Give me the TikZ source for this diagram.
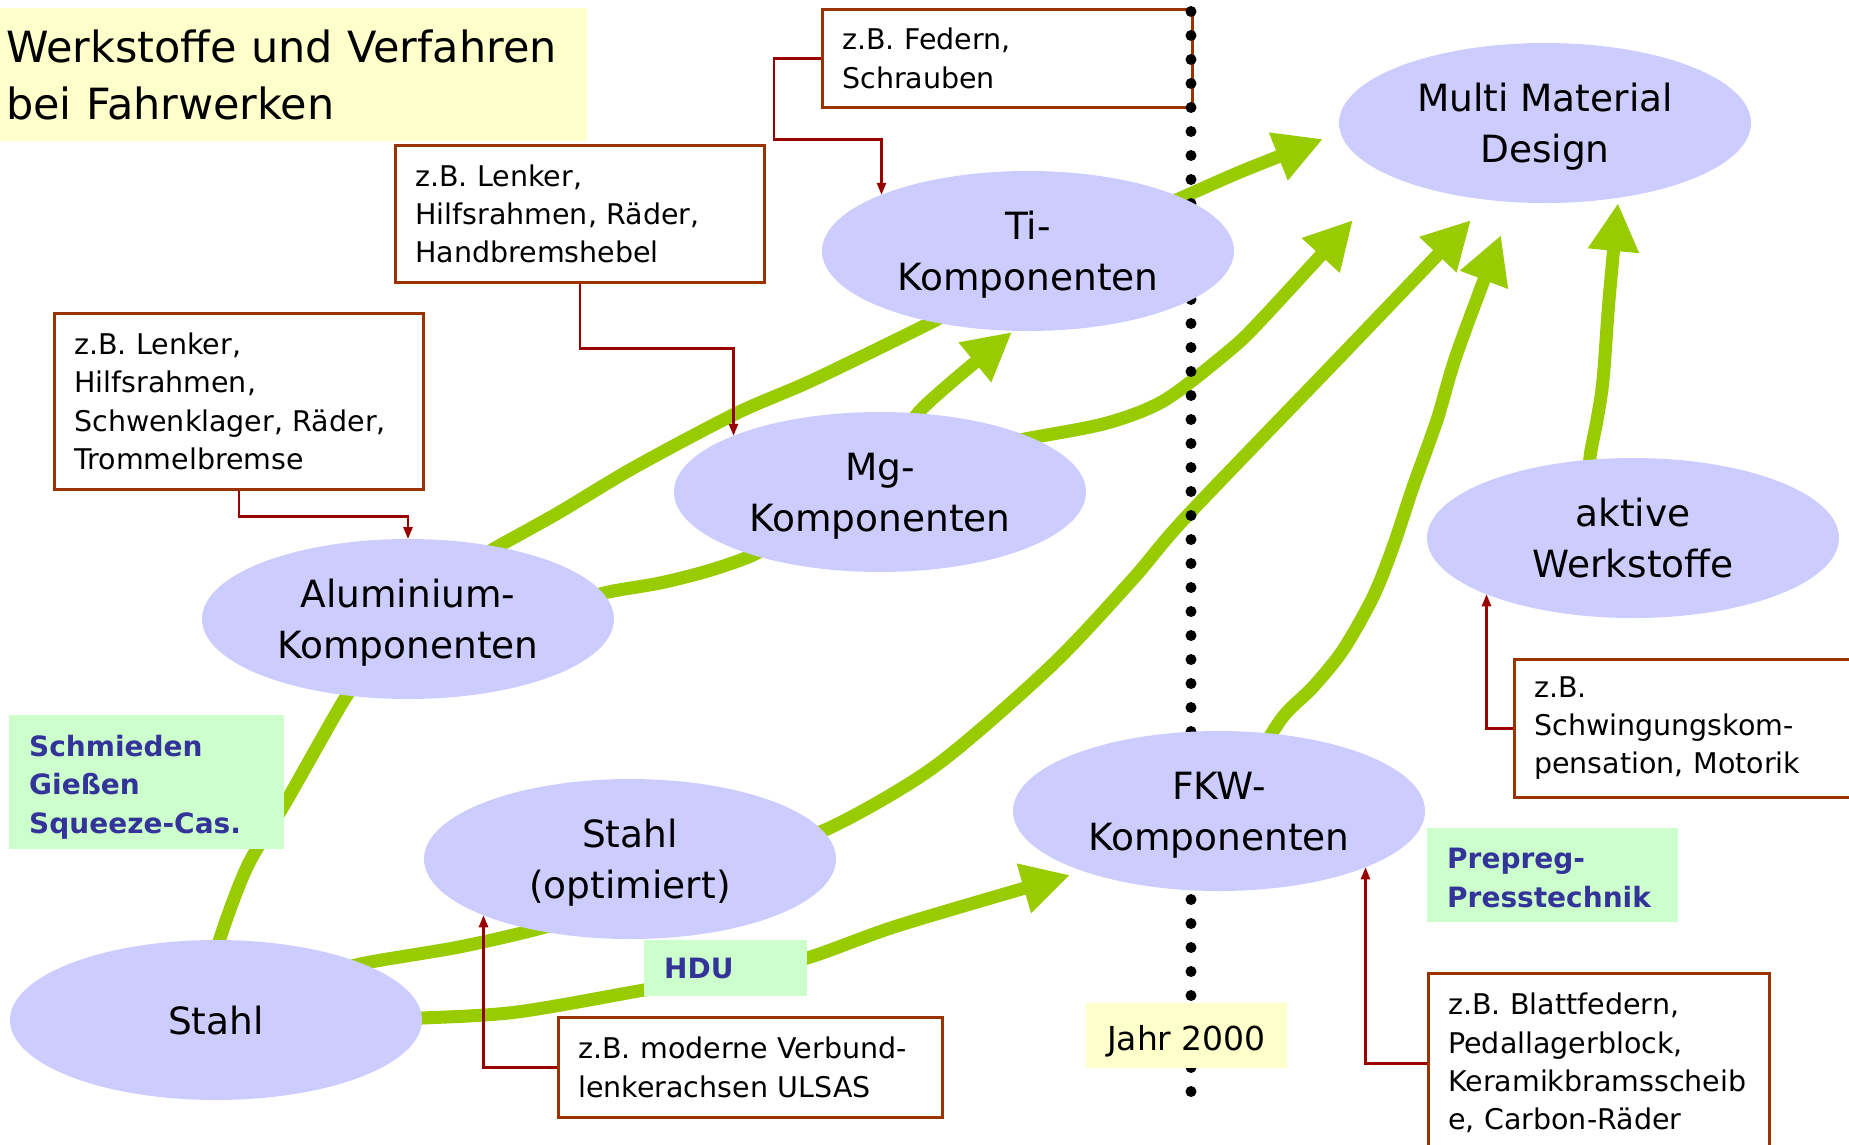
\documentclass[tikz,border=0pt]{standalone}
\usepackage{fontspec}
\setmainfont{DejaVu Sans}
\usetikzlibrary{shapes.geometric,arrows.meta}
\definecolor{lav}{HTML}{CCCCFF}
\definecolor{gruen}{HTML}{99CC00}
\definecolor{mint}{HTML}{CCFFCC}
\definecolor{blau}{HTML}{333399}
\definecolor{gelb}{HTML}{FFFFCC}
\definecolor{rahmen}{HTML}{993300}
\definecolor{dunkelrot}{HTML}{990000}
\pgfdeclarelayer{bg}
\pgfsetlayers{bg,main}
\tikzset{
  komp/.style={ellipse, fill=lav, minimum width=412pt, minimum height=160pt, inner sep=0pt, outer sep=0pt, align=center, text depth=0pt, font=\fontsize{37.5}{51}\selectfont},
  bsp/.style={draw=rahmen, line width=2.5pt, fill=white, anchor=north west, align=left, inner xsep=20pt, inner ysep=0pt, font=\fontsize{28.5}{38.3}\selectfont},
  verf/.style={fill=mint, anchor=north west, align=left, inner xsep=20pt, inner ysep=0pt, text=blau, font=\bfseries\fontsize{28}{38.5}\selectfont},
  spur/.style={draw=gruen, line width=13pt},
  pfeil/.style={spur, -{Triangle[length=48pt,width=48pt]}},
  zb/.style={draw=dunkelrot, line width=2.5pt, -{Triangle[length=12pt,width=9pt]}},
  punkte/.style={line width=11pt, line cap=round, dash pattern=on 0pt off 24pt}
}
\begin{document}
\begin{tikzpicture}[x=1pt,y=-1pt]
  \useasboundingbox (0,0) rectangle (1849,1144);
  \begin{pgfonlayer}{bg}
    \fill[white] (0,0) rectangle (1849,1144);
  \end{pgfonlayer}

  % Titel
  \node[fill=gelb, anchor=north west, minimum width=587pt, minimum height=133pt, text width=575pt, inner xsep=6pt, align=left, font=\fontsize{43}{57}\selectfont] (titel) at (0,8) {Werkstoffe und Verfahren\\bei Fahrwerken};

  % Beispiele
  \node[bsp, text width=330pt, minimum height=98pt] (federn) at (821,8) {z.B. Federn,\\Schrauben};
  \node[bsp, text width=329pt, minimum height=137pt] (lenker1) at (394,144) {z.B. Lenker,\\Hilfsrahmen, Räder,\\Handbremshebel};
  \node[bsp, text width=329pt, minimum height=176pt] (lenker2) at (53,312) {z.B. Lenker,\\Hilfsrahmen,\\Schwenklager, Räder,\\Trommelbremse};
  \node[bsp, text width=360pt, minimum height=138pt] (schw) at (1513,658) {z.B.\\Schwingungskom-\\pensation, Motorik};
  \node[bsp, text width=301pt, minimum height=180pt] (blatt) at (1427,972) {z.B. Blattfedern,\\Pedallagerblock,\\Keramikbramsscheib\\e, Carbon-Räder};
  \node[bsp, text width=344pt, minimum height=100pt] (verbund) at (557,1016) {z.B. moderne Verbund-\\lenkerachsen ULSAS};

  % Verfahren
  \node[verf, text width=235pt, minimum height=134pt] (schmieden) at (9,715) {\rule{0pt}{31pt}Schmieden\\Gießen\\Squeeze-Cas.};
  \node[verf, text width=123pt, minimum height=56pt] (hdu) at (644,940) {HDU};
  \node[verf, text width=211pt, minimum height=94pt] (prepreg) at (1427,828) {\rule{0pt}{26pt}Prepreg-\\Presstechnik};

  % Jahr 2000
  \coordinate (jtop) at (1191,11.5);
  \coordinate (jbot) at (1191,1092);
  \draw[punkte] (jtop) -- (jbot);

  % Werkstoffe
  \node[komp] (mmd) at (1545,123) {Multi Material\\Design};
  \node[komp] (ti) at (1028,251) {Ti-\\Komponenten};
  \node[komp] (mg) at (880,492) {Mg-\\Komponenten};
  \node[komp] (alu) at (408,619) {Aluminium-\\Komponenten};
  \node[komp] (stahlopt) at (630,859) {Stahl\\(optimiert)};
  \node[komp] (stahl) at (216,1020) {Stahl};
  \node[komp] (fkw) at (1219,811) {FKW-\\Komponenten};
  \node[komp] (aktiv) at (1633,538) {aktive\\Werkstoffe};

  \node[fill=gelb, minimum width=201pt, minimum height=65pt, inner sep=0pt, text height=30pt, text depth=0pt, font=\fontsize{33}{38}\selectfont] (jahr) at (1186.5,1035.5) {Jahr 2000};

  % Pfeile
  \coordinate (tipMgTi) at (1012,332);
  \coordinate (tipTiMM) at (1323,139);
  \coordinate (tipMgMM) at (1353,220);
  \coordinate (tipOptMM) at (1471,220);
  \coordinate (tipFkwMM) at (1501,235);
  \coordinate (tipAktMM) at (1618,203);
  \coordinate (tipStFkw) at (1070,875);
  \begin{pgfonlayer}{bg}
    \draw[spur] plot[smooth] coordinates {([shift={(-2,-40)}]stahl.center) (218,945) (247,867) (287,800) (344,700) ([shift={(-40,50)}]alu.center)};
    \draw[spur] plot[smooth] coordinates {([shift={(46,-47)}]alu.center) (497,547) (558,513) (635,467) (737,413) (813,380) (936,320) ([shift={(-60,50)}]ti.center)};
    \draw[spur] plot[smooth] coordinates {([shift={(150,-10)}]alu.center) (604,593) (660,583) (711,570) (757,553) ([shift={(-100,40)}]mg.center)};
    \draw[pfeil] plot[smooth] coordinates {([shift={(20,-50)}]mg.center) (918,413) (954,380) (tipMgTi)};
    \draw[pfeil] plot[smooth] coordinates {([shift={(100,-30)}]ti.center) (1181,198) (1240,172) (tipTiMM)};
    \draw[pfeil] plot[smooth] coordinates {([shift={(100,-45)}]mg.center) (1030,438) (1107,423) (1165,400) (1230,350) (1263,318) (tipMgMM)};
    \draw[pfeil] plot[smooth] coordinates {([shift={(140,-20)}]stahlopt.center) (825,830) (934,767) (1050,667) (1132,580) (1186,517) (1337,360) (tipOptMM)};
    \draw[pfeil] plot[smooth] coordinates {([shift={(30,-40)}]fkw.center) (1282,718) (1313,687) (1343,650) (1373,597) (1393,547) (1413,487) (1437,420) (1457,353) (tipFkwMM)};
    \draw[pfeil] plot[smooth] coordinates {([shift={(-45,-40)}]aktiv.center) (1590,457) (1597,420) (1603,380) (1609,300) (tipAktMM)};
    \draw[spur] plot[smooth] coordinates {([shift={(104,-45)}]stahl.center) (365,963) (459,947) (534,930) ([shift={(-40,55)}]stahlopt.center)};
    \draw[pfeil] plot[smooth] coordinates {([shift={(120,0)}]stahl.center) (422,1018) (517,1012) (644,990) (730,975) (807,958) (900,925) (tipStFkw)};
  \end{pgfonlayer}

  % Zuordnung
  \draw[zb] (federn.west) -- ++(-47,0) -- ++(0,81) -| (ti.159);
  \draw[zb] (lenker1.south) -- ++(0,65) -| (mg.159);
  \draw[zb] (lenker2.south) -- ++(0,26) -| (alu.north);
  \draw[zb] (schw.west) -| (aktiv.201);
  \draw[zb] (blatt.west) -| (fkw.339);
  \draw[zb] (verbund.west) -| (stahlopt.201);
\end{tikzpicture}
\end{document}
